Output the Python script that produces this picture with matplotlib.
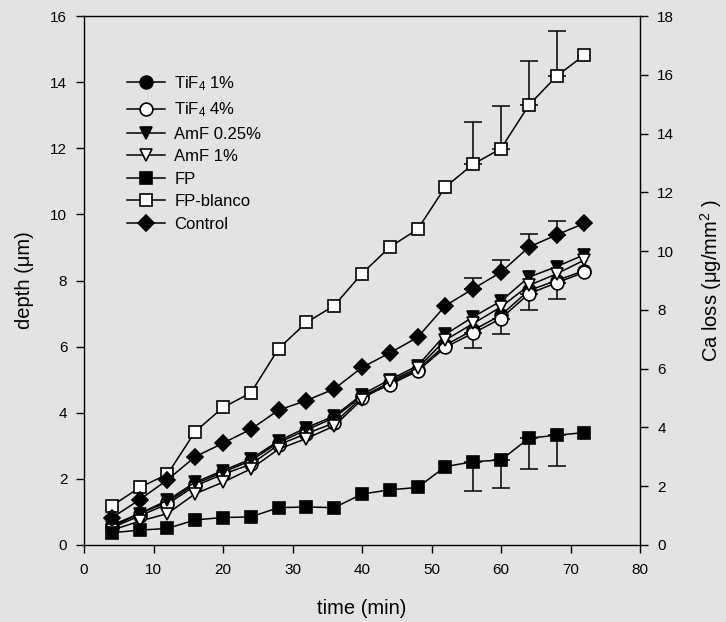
import numpy as np
import matplotlib
matplotlib.use("Agg")
import matplotlib.pyplot as plt

plt.rcParams['font.family'] = ['Liberation Sans', 'DejaVu Sans']
plt.rcParams['mathtext.fontset'] = 'custom'
plt.rcParams['mathtext.rm'] = 'Liberation Sans'
plt.rcParams['mathtext.it'] = 'Liberation Sans:italic'
plt.rcParams['mathtext.bf'] = 'Liberation Sans:bold'

# ---- data ----
time_min = [4, 8, 12, 16, 20, 24, 28, 32, 36, 40, 44, 48, 52, 56, 60, 64, 68, 72]

tif4_1 = [0.60, 0.95, 1.30, 1.85, 2.20, 2.55, 3.10, 3.48, 3.85, 4.50, 4.90, 5.30, 6.05, 6.50, 6.95, 7.70, 8.00, 8.30]
tif4_4 = [0.52, 0.88, 1.24, 1.79, 2.14, 2.44, 3.03, 3.37, 3.69, 4.46, 4.85, 5.26, 5.98, 6.41, 6.85, 7.60, 7.93, 8.25]
amf_025 = [0.55, 0.95, 1.35, 1.90, 2.25, 2.60, 3.15, 3.55, 3.90, 4.55, 5.00, 5.42, 6.37, 6.90, 7.38, 8.10, 8.42, 8.78]
amf_1 = [0.45, 0.72, 0.95, 1.55, 1.90, 2.30, 2.90, 3.22, 3.60, 4.40, 4.95, 5.35, 6.20, 6.70, 7.20, 7.85, 8.20, 8.62]
fp = [0.37, 0.45, 0.50, 0.76, 0.83, 0.85, 1.13, 1.15, 1.13, 1.54, 1.67, 1.74, 2.37, 2.52, 2.57, 3.23, 3.32, 3.40]
fp_blanco = [1.18, 1.74, 2.14, 3.43, 4.16, 4.60, 5.94, 6.73, 7.24, 8.21, 9.01, 9.55, 10.83, 11.52, 11.99, 13.30, 14.18, 14.82]
control = [0.82, 1.37, 1.97, 2.67, 3.08, 3.50, 4.08, 4.37, 4.72, 5.37, 5.81, 6.28, 7.24, 7.75, 8.25, 9.01, 9.38, 9.73]

# error bars (one-sided)
fp_blanco_err_up = [0, 0, 0, 0, 0, 0, 0, 0, 0, 0, 0, 0, 0, 1.27, 1.28, 1.34, 1.38, 0]
control_err_up = [0, 0, 0, 0, 0, 0, 0, 0, 0, 0, 0, 0, 0, 0.32, 0.36, 0.40, 0.41, 0]
tif4_4_err_down = [0, 0, 0, 0, 0, 0, 0, 0, 0, 0, 0, 0, 0, 0.45, 0.48, 0.48, 0.49, 0]
fp_err_down = [0, 0, 0, 0, 0, 0, 0, 0, 0, 0, 0, 0, 0, 0.88, 0.86, 0.94, 0.93, 0]

labels = [r'TiF$_4$ 1%', r'TiF$_4$ 4%', 'AmF 0.25%', 'AmF 1%', 'FP', 'FP-blanco', 'Control']

x_ticks = [0, 10, 20, 30, 40, 50, 60, 70, 80]
left_ticks = [0, 2, 4, 6, 8, 10, 12, 14, 16]
right_ticks = [0, 2, 4, 6, 8, 10, 12, 14, 16, 18]

# ---- figure ----
bg = '#e3e3e3'
fig = plt.figure(figsize=(7.26, 6.22), dpi=100, facecolor=bg)
ax = fig.add_axes([84/726, 1-545/622, (640-84)/726, (545-16)/622])
ax.set_facecolor(bg)

t = np.array(time_min)

def err(values, lo, hi):
    lo = np.array(lo); hi = np.array(hi)
    m = (lo > 0) | (hi > 0)
    ax.errorbar(t[m], np.array(values)[m], yerr=[lo[m], hi[m]], fmt='none',
                ecolor='black', elinewidth=1.1, capsize=6.3, capthick=1.1, zorder=1)

err(fp_blanco, np.zeros(len(t)), fp_blanco_err_up)
err(control, np.zeros(len(t)), control_err_up)
err(tif4_4, tif4_4_err_down, np.zeros(len(t)))
err(fp, fp_err_down, np.zeros(len(t)))

series = [
    (tif4_1, 'o', 'black', 9.2),
    (tif4_4, 'o', 'white', 9.2),
    (amf_025, 'v', 'black', 9.2),
    (amf_1, 'v', 'white', 9.2),
    (fp, 's', 'black', 8.5),
    (fp_blanco, 's', 'white', 8.5),
    (control, 'D', 'black', 7.8),
]
for i, (vals, mk, fc, ms) in enumerate(series):
    ax.plot(t, vals, color='black', lw=1.1, marker=mk, markersize=ms,
            markerfacecolor=fc, markeredgecolor='black', markeredgewidth=1.2,
            label=labels[i], zorder=3 + i)

ax.set_xlim(0, 80)
ax.set_ylim(0, 16)
ax.set_xticks(x_ticks)
ax.set_yticks(left_ticks)
ax.tick_params(direction='out', length=6, width=1, labelsize=11)
ax.tick_params(axis='x', pad=7)
ax.tick_params(axis='y', pad=6)
for s in ['left', 'bottom', 'top']:
    ax.spines[s].set_linewidth(1)
ax.spines['right'].set_visible(False)

ax2 = ax.twinx()
ax2.set_ylim(0, 18)
ax2.set_yticks(right_ticks)
ax2.tick_params(direction='out', length=6, width=1, labelsize=11, pad=6.5)
for s in ['left', 'bottom', 'top']:
    ax2.spines[s].set_visible(False)
ax2.spines['right'].set_linewidth(1)

ax.set_xlabel('time (min)', fontsize=14.5, labelpad=16)
ax.set_ylabel('depth (\u03bcm)', fontsize=14.5, labelpad=12)
ax2.set_ylabel('Ca loss (\u03bcg/mm$^2$ )', fontsize=14.5, labelpad=17)

leg = ax.legend(loc='upper left', bbox_to_anchor=(0.077, 0.890), frameon=False,
                fontsize=12, numpoints=1, handlelength=2.3, handletextpad=0.55,
                labelspacing=0.45, borderpad=0, borderaxespad=0)

fig.savefig('out.png', dpi=100, facecolor=bg)
